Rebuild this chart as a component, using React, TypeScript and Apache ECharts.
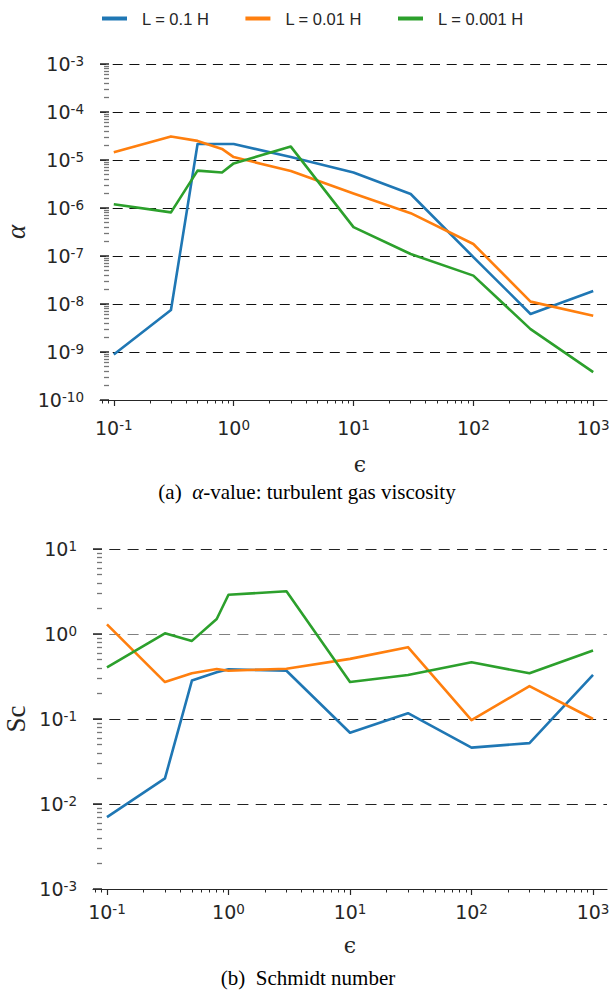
import React, { useEffect, useRef } from 'react';
import * as echarts from 'echarts';

// ---- data ----
const eps = [0.1, 0.3, 0.5, 0.8, 1, 3, 10, 30, 100, 300, 1000];
const seriesNames = ['L = 0.1 H', 'L = 0.01 H', 'L = 0.001 H'];
const seriesColors = ['#1f77b4', '#ff7f0e', '#2ca02c'];

const alphaL1 = [8.9e-10, 7.5e-9, 2.15e-5, 2.15e-5, 2.15e-5, 1.15e-5, 5.5e-6, 1.96e-6, 9.5e-8, 6.2e-9, 1.86e-8];
const alphaL2 = [1.45e-5, 3.1e-5, 2.5e-5, 1.7e-5, 1.15e-5, 5.9e-6, 2.0e-6, 7.8e-7, 1.78e-7, 1.12e-8, 5.7e-9];
const alphaL3 = [1.2e-6, 8.1e-7, 6.0e-6, 5.5e-6, 8.5e-6, 1.9e-5, 4.0e-7, 1.1e-7, 3.9e-8, 3.0e-9, 3.8e-10];

const scL1 = [0.007, 0.02, 0.283, 0.355, 0.385, 0.37, 0.069, 0.117, 0.046, 0.052, 0.33];
const scL2 = [1.3, 0.272, 0.345, 0.387, 0.37, 0.39, 0.51, 0.7, 0.097, 0.244, 0.1];
const scL3 = [0.405, 1.02, 0.83, 1.5, 2.9, 3.18, 0.272, 0.33, 0.465, 0.345, 0.64];

// tick exponents
const xMajor = [-1, 0, 1, 2, 3];
const alphaMajor = [-10, -9, -8, -7, -6, -5, -4, -3];
const scMajor = [-3, -2, -1, 0, 1];

const X_MIN = -1.115;
const X_MAX = 3.115;

const TXT = '#262626';

function minorTicks(lo: number, hi: number): number[] {
  const out: number[] = [];
  for (let n = Math.floor(lo) - 1; n <= Math.ceil(hi); n++) {
    for (let k = 2; k <= 9; k++) {
      const v = n + Math.log10(k);
      if (v > lo && v < hi) out.push(v);
    }
  }
  return out;
}

const rich = {
  b: { fontFamily: 'DejaVu Sans', fontSize: 19, color: TXT, lineHeight: 20 },
  s: { fontFamily: 'DejaVu Sans', fontSize: 13.5, color: TXT, lineHeight: 15, verticalAlign: 'top' },
};
const supLabel = (v: number) => `{b|10}{s|${Math.round(v)}}`;

function toXY(vals: number[]) {
  return eps.map((x, i) => [Math.log10(x), Math.log10(vals[i])]);
}

function makeXAxes(g: number, labelMargin: number) {
  return [
    {
      type: 'value', gridIndex: g, position: 'bottom', min: X_MIN, max: X_MAX,
      axisLine: { show: true, onZero: false, lineStyle: { color: TXT, width: 1.2 } },
      axisTick: { show: true, customValues: xMajor, length: 6, lineStyle: { color: TXT, width: 1.2 } },
      axisLabel: { show: true, customValues: xMajor, formatter: supLabel, margin: labelMargin, rich },
      splitLine: { show: false },
    },
    {
      type: 'value', gridIndex: g, position: 'bottom', min: X_MIN, max: X_MAX,
      axisLine: { show: false, onZero: false },
      axisTick: { show: true, customValues: minorTicks(X_MIN, X_MAX), length: 3.5, lineStyle: { color: TXT, width: 1 } },
      axisLabel: { show: false },
      splitLine: { show: false },
    },
  ];
}

function makeYAxes(g: number, min: number, max: number, major: number[], gridColors: string[], dash: number[], dashOffset: number) {
  return [
    {
      type: 'value', gridIndex: g, position: 'left', offset: -9, min, max, interval: 1,
      axisLine: { show: false, onZero: false },
      axisTick: { show: true, customValues: major, length: 9, lineStyle: { color: '#333', width: 1.6 } },
      axisLabel: { show: true, customValues: major, formatter: supLabel, margin: 25, rich },
      splitLine: { show: true, lineStyle: { type: dash, dashOffset, color: gridColors, width: 1.1 } },
    },
    {
      type: 'value', gridIndex: g, position: 'left', offset: -9, min, max,
      axisLine: { show: false, onZero: false },
      axisTick: { show: true, customValues: minorTicks(min, max), length: 5, lineStyle: { color: '#777', width: 1.3 } },
      axisLabel: { show: false },
      splitLine: { show: false },
    },
  ];
}

function makeSeries(g: number, arrays: number[][]) {
  return arrays.map((vals, i) => ({
    type: 'line',
    name: seriesNames[i],
    xAxisIndex: g * 2,
    yAxisIndex: g * 2,
    data: toXY(vals),
    showSymbol: false,
    symbol: 'none',
    lineStyle: { color: seriesColors[i], width: 2.6, join: 'round' },
    itemStyle: { color: seriesColors[i] },
    z: 3,
  }));
}

const serifRich = {
  n: { fontFamily: 'Liberation Serif', fontSize: 21, fill: '#000', color: '#000' },
  i: { fontFamily: 'Liberation Serif', fontStyle: 'italic', fontSize: 21, fill: '#000', color: '#000' },
};

const option = {
  animation: false,
  backgroundColor: '#ffffff',
  legend: {
    top: 5,
    left: 97,
    icon: 'rect',
    itemWidth: 25,
    itemHeight: 4,
    itemGap: 36,
    data: seriesNames,
    textStyle: { fontFamily: 'Liberation Sans', fontSize: 16.5, color: TXT, padding: [0, 0, 0, 10] },
  },
  grid: [
    { left: 100, right: 7, top: 64, height: 336, containLabel: false },
    { left: 93, right: 7, top: 549, height: 340, containLabel: false },
  ],
  xAxis: [...makeXAxes(0, 18), ...makeXAxes(1, 13)],
  yAxis: [
    ...makeYAxes(0, -10, -3, alphaMajor, ['#111'], [10, 6.7], 3.7),
    ...makeYAxes(1, -3, 1, scMajor, ['#222', '#222', '#222', '#808080', '#222'], [11, 7.3], 2),
  ],
  series: [...makeSeries(0, [alphaL1, alphaL2, alphaL3]), ...makeSeries(1, [scL1, scL2, scL3])],
  graphic: [
    {
      type: 'text', x: 16, y: 232, rotation: Math.PI / 2,
      style: { text: 'α', fontFamily: 'Liberation Serif', fontStyle: 'italic', fontSize: 27, fill: TXT,
        align: 'center', verticalAlign: 'middle', textAlign: 'center', textVerticalAlign: 'middle' },
    },
    {
      type: 'text', x: 16, y: 719, rotation: Math.PI / 2,
      style: { text: 'Sc', fontFamily: 'Liberation Serif', fontSize: 27, fill: TXT,
        align: 'center', verticalAlign: 'middle', textAlign: 'center', textVerticalAlign: 'middle' },
    },
    {
      type: 'text', x: 360, y: 464,
      style: { text: 'ϵ', fontFamily: 'DejaVu Serif', fontSize: 22, fill: TXT,
        align: 'center', verticalAlign: 'middle', textAlign: 'center', textVerticalAlign: 'middle' },
    },
    {
      type: 'text', x: 350, y: 945,
      style: { text: 'ϵ', fontFamily: 'DejaVu Serif', fontSize: 22, fill: TXT,
        align: 'center', verticalAlign: 'middle', textAlign: 'center', textVerticalAlign: 'middle' },
    },
    {
      type: 'text', x: 307, y: 492,
      style: { text: '{n|(a)  }{i|α}{n|-value: turbulent gas viscosity}', rich: serifRich, fill: '#000',
        align: 'center', verticalAlign: 'middle', textAlign: 'center', textVerticalAlign: 'middle' },
    },
    {
      type: 'text', x: 308, y: 978,
      style: { text: '{n|(b)  Schmidt number}', rich: serifRich, fill: '#000',
        align: 'center', verticalAlign: 'middle', textAlign: 'center', textVerticalAlign: 'middle' },
    },
  ],
};

export default function App() {
  const ref = useRef<HTMLDivElement>(null);
  useEffect(() => {
    document.body.style.margin = '0';
    const chart = echarts.init(ref.current as HTMLDivElement, null, { renderer: 'svg' });
    chart.setOption(option as any);
    return () => chart.dispose();
  }, []);
  return <div ref={ref} style={{ width: 614, height: 996 }} />;
}
